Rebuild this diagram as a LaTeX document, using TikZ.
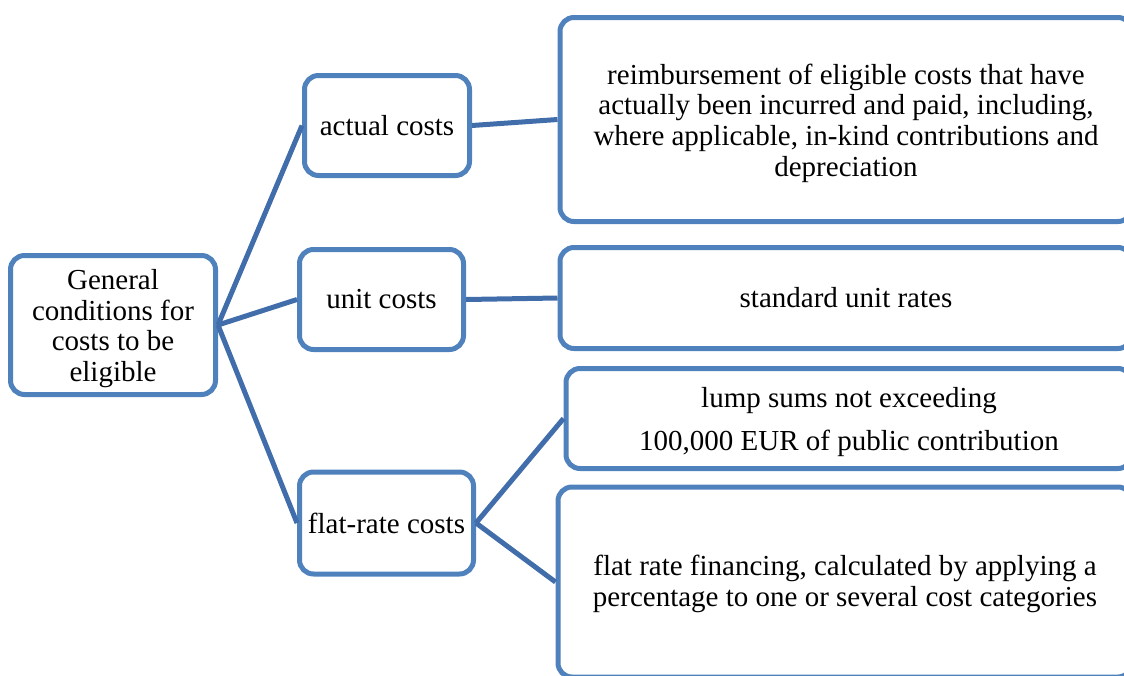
\documentclass[tikz,border=0pt]{standalone}
\usepackage{fontspec}
\setmainfont{Liberation Serif}
\definecolor{boxblue}{HTML}{4F81BD}
\definecolor{linkblue}{HTML}{416EAA}
\begin{document}
\begin{tikzpicture}[x=1pt,y=-1pt,
  box/.style={draw=boxblue, line width=5pt, rounded corners=14pt, fill=white,
    align=center, font=\fontsize{29}{30.7}\selectfont, inner sep=0pt},
  txt/.style={align=center, font=\fontsize{29}{30.7}\selectfont, inner sep=0pt, yshift=-3.5pt},
  link/.style={draw=linkblue, line width=5pt}]
\useasboundingbox (0,0) rectangle (1124,675);
\clip (0,0) rectangle (1124,675);
\node[box, minimum width=205pt, minimum height=139pt,
  label={[txt, name=gent]center:{General\\conditions for\\costs to be\\eligible}}] (gen) at (113,325) {};
\node[box, minimum width=165pt, minimum height=100pt] (act) at (387,125.5) {actual costs};
\node[box, minimum width=164pt, minimum height=100pt] (unit) at (381.5,299.5) {unit costs};
\node[box, minimum width=174pt, minimum height=102pt] (flat) at (386.5,523) {flat-rate costs};
\node[box, minimum width=572pt, minimum height=204pt,
  label={[txt, name=reimbt]center:{reimbursement of eligible costs that have\\actually been incurred and paid, including,\\where applicable, in-kind contributions and\\depreciation}}] (reimb) at (846,119.5) {};
\node[box, minimum width=572pt, minimum height=101pt] (std) at (846,298) {standard unit rates};
\node[box, minimum width=566pt, minimum height=100pt,
  label={[txt, name=lumpt]center:{lump sums not exceeding\\[12pt]100,000 EUR of public contribution}}] (lump) at (849,418.5) {};
\node[box, minimum width=574pt, minimum height=190pt,
  label={[txt, yshift=1.5pt, name=fratet]center:{flat rate financing, calculated by applying a\\percentage to one or several cost categories}}] (frate) at (845,582) {};
\draw[link] (gen.east) -- (act.west);
\draw[link] (gen.east) -- (unit.west);
\draw[link] (gen.east) -- (flat.west);
\draw[link] (act.east) -- (reimb.west);
\draw[link] (unit.east) -- (std.west);
\draw[link] (flat.east) -- (lump.west);
\draw[link] (flat.east) -- (frate.west);
\end{tikzpicture}
\end{document}
